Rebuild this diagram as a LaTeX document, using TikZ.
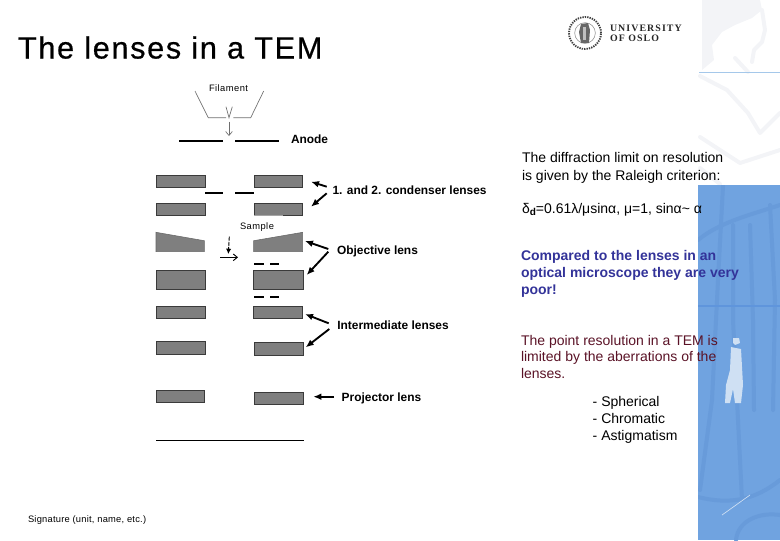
\documentclass[tikz,border=0pt]{standalone}
\usepackage{fontspec}
\setmainfont{Liberation Sans}
\newfontfamily\logofont[LetterSpace=11]{Liberation Serif}
\newfontfamily\spaced[LetterSpace=5]{Liberation Sans}
\newfontfamily\sigfont[LetterSpace=2.5]{Liberation Sans}
\newfontfamily\titlefont[LetterSpace=5.4,FakeBold=0.6]{Liberation Sans}
\newcommand{\fs}[1]{\fontsize{#1}{#1}\selectfont}
\usetikzlibrary{arrows.meta}
\definecolor{lensgrey}{HTML}{7F7F7F}
\definecolor{lensedge}{HTML}{3A3A3A}
\definecolor{skyblue}{HTML}{70A3E0}
\definecolor{skydark}{HTML}{689BDA}
\definecolor{skyline}{HTML}{5F95DC}
\definecolor{bustgrey}{HTML}{F3F4F7}
\definecolor{topline}{HTML}{A5C8EA}
\definecolor{statue}{HTML}{CFE0F3}
\definecolor{navytext}{HTML}{333399}
\definecolor{winetext}{HTML}{5A1226}
\definecolor{thingrey}{HTML}{6E6E6E}
\tikzset{
  lens/.style={draw=lensedge,line width=0.6pt,fill=lensgrey,inner sep=0pt,outer sep=0pt},
  lenspoly/.style={fill=lensgrey,draw=lensgrey!80!black,line width=0.4pt},
  txt/.style={anchor=base west,inner sep=0pt,outer sep=0pt,align=left},
  lbl/.style={txt,font=\fs{8.95}\bfseries},
  small/.style={txt,font=\spaced\fs{7}},
  body/.style={txt,font=\fs{10.5}},
  thin line/.style={draw=thingrey,line width=0.5pt},
  plate/.style={draw=black,line width=0.9pt},
  aperture/.style={draw=black,line width=1.3pt},
  pointer/.style={draw=black,line width=1.4pt,-{Latex[length=6pt,width=5pt]}},
  smallpointer/.style={draw=black,line width=0.7pt,-{Latex[length=4pt,width=4pt]}},
  bust/.style={draw=bustgrey,line width=3pt,line join=round,line cap=round},
  stripe/.style={draw=skydark,line width=3pt,line cap=round}
}
\newcommand{\lensbox}[5]{\node[lens,minimum width={(#4-#2)*0.75pt},minimum height={(#5-#3)*0.75pt}] (#1) at ({(#2+#4)/2},{(#3+#5)/2}) {};}
\begin{document}
\begin{tikzpicture}[x=0.75pt,y=-0.75pt]
\useasboundingbox (0,0) rectangle (780,540);
% backdrop: bust
\fill[bustgrey] (702,0) -- (760,0) -- (762,10) -- (752,18) -- (735,25) -- (722,32) -- (712,45) -- (714,60) -- (702,70) -- cycle;
\path[bust] (762,10) -- (765,30) -- (762,42) -- (754,50) -- (752,62);
\path[bust] (735,58) -- (748,72);
\path[bust] (700,76) -- (727,90) -- (748,113) -- (760,133) -- (780,113);
\path[bust] (700,137) -- (740,163) -- (780,150);
\path[bust] (700,168) -- (720,184);
\draw[topline,line width=1pt] (699,72.5) -- (780,72.5);
% backdrop: blue panel
\fill[skyblue] (698,185) rectangle (780,540);
\begin{scope}
\clip (698,185) rectangle (780,540);
\path[stripe] (723,186) -- (718,280) -- (712,400) -- (700,490);
\path[stripe] (733,225) -- (733,320) -- (738,420) -- (742,500);
\path[stripe] (750,225) -- (753,320) -- (754,410);
\path[stripe] (770,205) -- (775,300) -- (773,410);
\path[stripe] (698,240) .. controls (720,222) and (750,215) .. (780,205);
\path[stripe] (698,497) .. controls (730,505) and (755,500) .. (780,480);
\path[stripe] (736,540) .. controls (738,520) and (760,512) .. (780,515);
\end{scope}
\draw[skyline,line width=0.8pt] (698,306) -- (780,306);
\draw[statue,line width=0.5pt] (722,515) -- (750,495);
\fill[statue] (733,338) -- (739,338) -- (740,343) -- (735,345) -- (733,343) -- cycle;
\fill[statue] (731,347) -- (741,349) -- (743,385) -- (741,403) -- (735,403) -- (733,389) -- (730,403) -- (725,403) -- (726,385) -- (730,370) -- cycle;
% university seal and name
\node[circle,draw=black!75,line width=1.4pt,dash pattern=on 1pt off 0.8pt,minimum size=24pt,inner sep=0pt] (seal) at (585,33) {};
\node[circle,draw=black!45,line width=0.4pt,minimum size=15.5pt,inner sep=0pt] (sealinner) at (585,33) {};
\fill[black!60] (581,24) -- (588,23) -- (590,30) -- (589,43) -- (581,43) -- (579,32) -- cycle;
\fill[black!25] (583,27) -- (586,27) -- (586,40) -- (583,40) -- cycle;
\node[txt,font=\logofont\fs{7.4}\bfseries,text=black!85] (uni) at (610,31.7) {UNIVERSITY};
\node[txt,font=\logofont\fs{7.4}\bfseries,text=black!85] (oslo) at (610,41) {OF OSLO};
% title
\node[txt,font=\titlefont\fs{23}] (title) at (18,58.5) {The lenses in a TEM};
% gun
\node[small] (filament) at (209,91) {Filament};
\draw[thin line] (195,91) -- (208.3,117.7) -- (226,117.7);
\draw[thin line] (263.7,91) -- (250.7,117.7) -- (233.3,117.7);
\draw[thin line] (226,106.7) -- (229,117.7) -- (232.3,106.7);
\coordinate (gunA) at (229,121.7);
\coordinate (gunB) at (229,136);
\draw[thingrey,line width=0.5pt,-{Straight Barb[length=3pt,width=5pt]}] (gunA) -- (gunB);
\draw[plate] (179,141) -- (223.3,141);
\draw[plate] (235.3,141) -- (278.7,141);
\node[lbl] (anode) at (291,143) {Anode};
% condenser
\lensbox{c1l}{156}{175}{205}{187.5}
\lensbox{c1r}{254.3}{175}{302.3}{187.5}
\lensbox{c2l}{156}{203}{205}{215.5}
\lensbox{c2r}{254.3}{203}{302.3}{215.5}
\draw[lensgrey!70,line width=0.7pt] (254,215.5) -- (283,215.5);
\draw[aperture,line width=1.6pt] (205,193.3) -- (223.3,193.3);
\draw[aperture,line width=1.6pt] (235,193.3) -- (254,193.3);
\node[lbl] (cond) at (332.5,194.5) {1. and 2. condenser lenses};
\node[small] (sample) at (240,229) {Sample};
% objective
\path[lenspoly] (156,232.3) -- (204.3,240.7) -- (204.3,251.7) -- (156,251.7) -- cycle;
\path[lenspoly] (253.7,240.7) -- (302.7,232.3) -- (302.7,251.7) -- (253.7,251.7) -- cycle;
\coordinate (sampA) at (229.3,236.7);
\coordinate (sampB) at (228.3,254);
\draw[smallpointer,dash pattern=on 3pt off 0.8pt] (sampA) -- (sampB);
\coordinate (rayA) at (220,257.3);
\coordinate (rayB) at (238,257.3);
\draw[black,line width=0.7pt,-{Straight Barb[length=3pt,width=5pt]}] (rayA) -- (rayB);
\draw[aperture] (254.3,263.7) -- (264,263.7);
\draw[aperture] (270,263.7) -- (279.3,263.7);
\node[lbl] (obj) at (337,254) {Objective lens};
\lensbox{o2l}{156}{270}{205.7}{289.3}
\lensbox{o2r}{253.7}{270}{303}{289.3}
\draw[aperture] (254.3,297.3) -- (264,297.3);
\draw[aperture] (270,297.3) -- (279.3,297.3);
% intermediate
\lensbox{i1l}{156}{306}{205}{318.7}
\lensbox{i1r}{253.7}{306}{302}{318.7}
\lensbox{i2l}{156.3}{341}{205.7}{354}
\lensbox{i2r}{254}{342.3}{303}{355}
\node[lbl] (inter) at (337.3,329.3) {Intermediate lenses};
% projector
\lensbox{p1l}{156}{390}{204.7}{402.7}
\lensbox{p1r}{254}{392}{303}{404.7}
\node[lbl] (proj) at (341.7,401) {Projector lens};
\draw[plate] (156,440.3) -- (304,440.3);
% callouts
\coordinate (a1s) at (326.7,186.7); \coordinate (a1e) at (311,181.7);
\coordinate (a2s) at (326.7,193.3); \coordinate (a2e) at (311,206.7);
\coordinate (a3s) at (328.3,249);   \coordinate (a3e) at (305,241);
\coordinate (a4s) at (328.3,251.7); \coordinate (a4e) at (306.7,275);
\coordinate (a5s) at (328.7,323.3); \coordinate (a5e) at (305,314);
\coordinate (a6s) at (329.3,329);   \coordinate (a6e) at (305.7,347.3);
\coordinate (a7s) at (334,396.7);   \coordinate (a7e) at (313.3,396.7);
\foreach \k in {1,...,7} {\draw[pointer] (a\k s) -- (a\k e);}
% right column
\node[body] (d1) at (522,162.7) {The diffraction limit on resolution};
\node[body] (d2) at (522,180) {is given by the Raleigh criterion:};
\node[body] (d3) at (522,213) {δ\raisebox{-0.3ex}{\fs{7.5}\bfseries d}=0.61λ/μsinα, μ=1, sinα\textasciitilde{} α};
\node[body,font=\fs{10.5}\bfseries,text=navytext] (c1) at (521,260.7) {Compared to the lenses in an};
\node[body,font=\fs{10.5}\bfseries,text=navytext] (c2) at (521,277) {optical microscope they are very};
\node[body,font=\fs{10.5}\bfseries,text=navytext] (c3) at (521,294) {poor!};
\node[body,text=winetext] (r1) at (521,345) {The point resolution in a TEM is};
\node[body,text=winetext] (r2) at (521,361.5) {limited by the aberrations of the};
\node[body,text=winetext] (r3) at (521,378) {lenses.};
\node[body] (l1) at (592.7,406.7) {- Spherical};
\node[body] (l2) at (592.7,423.5) {- Chromatic};
\node[body] (l3) at (592.7,440.7) {- Astigmatism};
\node[txt,font=\sigfont\fs{7}] (sig) at (28,522) {Signature (unit, name, etc.)};
\end{tikzpicture}
\end{document}
